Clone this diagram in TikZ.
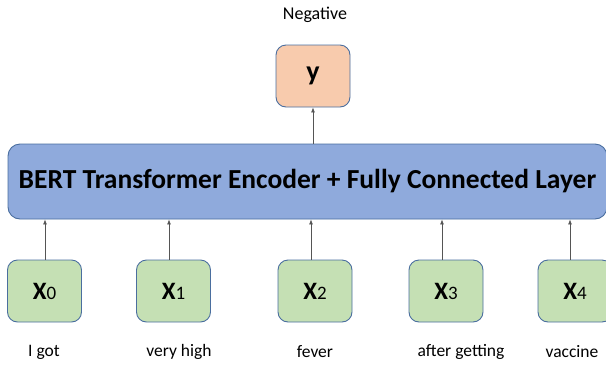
\documentclass[tikz,border=0pt]{standalone}
\usepackage{fontspec}
\setmainfont{Carlito}
\usetikzlibrary{arrows.meta}
\definecolor{bluefill}{HTML}{8FAADC}
\definecolor{greenfill}{HTML}{C5E0B4}
\definecolor{orangefill}{HTML}{F8CBAD}
\definecolor{boxline}{HTML}{4A6E9F}
\definecolor{arrline}{HTML}{555555}
\begin{document}
\begin{tikzpicture}[x=1pt,y=-1pt,
  smallbox/.style={draw=boxline, line width=0.9pt, rounded corners=10pt, minimum width=74pt, minimum height=62pt, inner sep=0pt},
  inbox/.style={smallbox, fill=greenfill, font=\fontsize{25}{25}\selectfont},
  outbox/.style={smallbox, fill=orangefill, font=\fontsize{28}{28}\selectfont\bfseries},
  encbox/.style={draw=boxline, line width=0.9pt, fill=bluefill, rounded corners=12pt, minimum width=599pt, minimum height=75pt, inner sep=0pt, font=\fontsize{27.5}{27.5}\selectfont\bfseries},
  word/.style={font=\fontsize{17.5}{17.5}\selectfont, inner sep=0pt},
  arr/.style={draw=arrline, line width=0.7pt, -{Latex[length=5pt,width=4pt]}}
]
\useasboundingbox (0,0) rectangle (606,365);
\node[word, font=\fontsize{18}{18}\selectfont] (neg) at (315,15) {Negative};
\node[outbox] (y) at (313,76) {y};
\node[encbox] (bert) at (307.5,181.5) {\raisebox{-2pt}{BERT Transformer Encoder + Fully Connected Layer}};
\newcommand{\xlab}[1]{\raisebox{-3pt}{{\bfseries X}{\fontsize{19}{19}\selectfont #1}}}
\node[inbox] (x0) at (44.5,291) {\xlab{0}};
\node[inbox] (x1) at (173.5,291) {\xlab{1}};
\node[inbox] (x2) at (315,291) {\xlab{2}};
\node[inbox] (x3) at (446,291) {\xlab{3}};
\node[inbox] (x4) at (575,291) {\xlab{4}};
\node[word] (w0) at (44,352) {I got};
\node[word] (w1) at (179,352) {very high};
\node[word] (w2) at (315,352) {fever};
\node[word] (w3) at (461,352) {after getting};
\node[word] (w4) at (572,352) {vaccine};
\draw[arr] ([xshift=0.5pt]x0.north) -- ([xshift=0.5pt]x0.north |- bert.south);
\draw[arr] ([xshift=-4.5pt]x1.north) -- ([xshift=-4.5pt]x1.north |- bert.south);
\draw[arr] ([xshift=-4pt]x2.north) -- ([xshift=-4pt]x2.north |- bert.south);
\draw[arr] ([xshift=-4pt]x3.north) -- ([xshift=-4pt]x3.north |- bert.south);
\draw[arr] ([xshift=-5pt]x4.north) -- ([xshift=-5pt]x4.north |- bert.south);
\draw[arr] (bert.north -| y.south) -- (y.south);
\end{tikzpicture}
\end{document}
